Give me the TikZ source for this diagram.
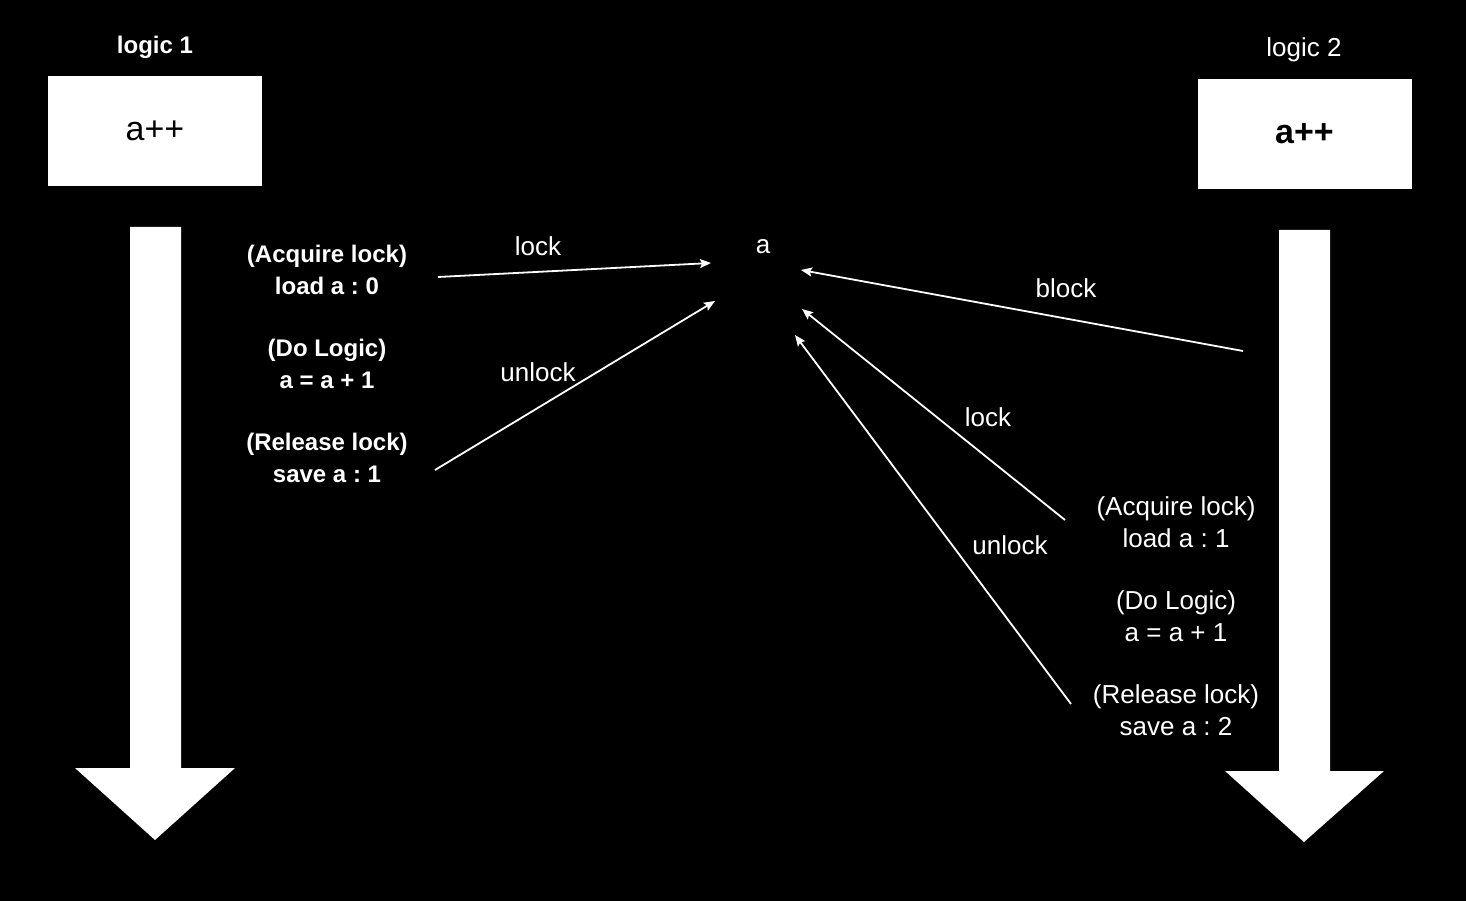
\documentclass[tikz,border=0pt]{standalone}
\usepackage{fontspec}
\setmainfont{Liberation Sans}
\usetikzlibrary{arrows.meta}
\frenchspacing
\tikzset{
  txt/.style={text=white, align=center, inner sep=0pt, font=\fontsize{26}{32}\selectfont},
  btxt/.style={text=white, align=center, inner sep=0pt, font=\fontsize{24}{32}\selectfont\bfseries},
  lbl/.style={text=white, inner sep=0pt, font=\fontsize{26}{30}\selectfont},
  box/.style={fill=white, draw=none, minimum width=214pt, minimum height=110pt, inner sep=0pt, font=\fontsize{34}{40}\selectfont},
  conn/.style={draw=white, line width=1.8pt, -{Stealth[length=11pt,width=9pt,inset=2pt]}},
  bigarrow/.style={fill=white, draw=none}
}
\begin{document}
\begin{tikzpicture}[x=1pt, y=-1pt]
\fill[black] (0,0) rectangle (1466,901);
\useasboundingbox (0,0) rectangle (1466,901);

% titles and boxes
\node[btxt] (t1) at (155,47) {logic 1};
\node[box] (b1) at (155,131) {a++};
\node[txt] (t2) at (1304,50) {logic 2};
\node[box] (b2) at (1304.5,134) {\bfseries a++};

% big down arrows
\fill[bigarrow] (130,227) -- (181,227) -- (181,768) -- (235,768) -- (155,840) -- (75,768) -- (130,768) -- cycle;
\fill[bigarrow] (1279,230) -- (1330,230) -- (1330,771) -- (1384,771) -- (1304,842) -- (1225,771) -- (1279,771) -- cycle;

% left step texts
\node[btxt] (l1) at (327,270) {(Acquire lock)\\load a : 0};
\node[btxt] (l2) at (327,364) {(Do Logic)\\a = a + 1};
\node[btxt] (l3) at (327,458) {(Release lock)\\save a : 1};

% right step texts
\node[txt] (r1) at (1176,522) {(Acquire lock)\\load a : 1};
\node[txt] (r2) at (1176,616) {(Do Logic)\\a = a + 1};
\node[txt] (r3) at (1176,710) {(Release lock)\\save a : 2};

% shared variable
\node[lbl] (a) at (763,247) {a};

% connector endpoints
\coordinate (s1) at (438,277);
\coordinate (e1) at (711,263);
\coordinate (s2) at (435,470);
\coordinate (e2) at (715,301);
\coordinate (s3) at (1243,351);
\coordinate (e3) at (801,270);
\coordinate (s4) at (1065,520);
\coordinate (e4) at (802,309);
\coordinate (s5) at (1071,704);
\coordinate (e5) at (795,335);

\draw[conn] (s1) -- (e1);
\draw[conn] (s2) -- (e2);
\draw[conn] (s3) -- (e3);
\draw[conn] (s4) -- (e4);
\draw[conn] (s5) -- (e5);

% connector labels
\node[lbl] (c1) at (538,246) {lock};
\node[lbl] (c2) at (538,372) {unlock};
\node[lbl] (c3) at (1066,288) {block};
\node[lbl] (c4) at (988,417) {lock};
\node[lbl] (c5) at (1010,545) {unlock};
\end{tikzpicture}
\end{document}
